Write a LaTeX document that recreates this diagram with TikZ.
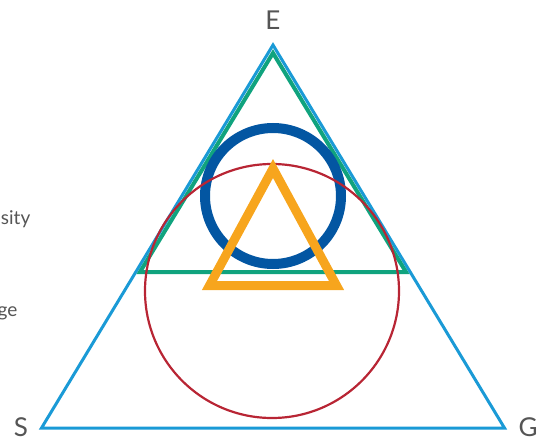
\documentclass[tikz,border=0pt]{standalone}
\usepackage{fontspec}
\setmainfont{Lato}
\definecolor{outerblue}{HTML}{1A9AD6}
\definecolor{tealgreen}{HTML}{10A37E}
\definecolor{ringblue}{HTML}{0356A2}
\definecolor{ambertri}{HTML}{F7A51D}
\definecolor{rimred}{HTML}{B82534}
\definecolor{labelgray}{HTML}{555555}
\begin{document}
\begin{tikzpicture}[x=1pt,y=-1pt,line join=miter,
	corner/.style={text=labelgray,inner sep=0pt,font=\fontsize{26}{28}\selectfont},
	cut/.style={text=labelgray,inner sep=0pt,font=\fontsize{19}{21}\selectfont,anchor=base east}]
	\useasboundingbox (0,0) rectangle (546,441);
	% outer triangle
	\coordinate (Etop) at (273,45);
	\coordinate (Sbot) at (41.5,428);
	\coordinate (Gbot) at (504.5,428);
	\draw[outerblue,line width=3pt] (Etop)--(Sbot)--(Gbot)--cycle;
	% inner triangles and circles
	\coordinate (gtop) at (273,53);
	\coordinate (gleft) at (140,272);
	\coordinate (gright) at (406,272);
	\draw[tealgreen,line width=4pt] (gtop)--(gleft)--(gright)--cycle;
	\draw[ringblue,line width=10pt] (273,196) circle (68pt);
	\draw[rimred,line width=2.2pt] (272,291) circle (127pt);
	\coordinate (otop) at (273,168.5);
	\coordinate (oleft) at (209.5,285.5);
	\coordinate (oright) at (336.5,285.5);
	\draw[ambertri,line width=9pt] (otop)--(oleft)--(oright)--cycle;
	\node[corner] (E) at (273,20) {E};
	\node[corner] (S) at (21,427) {S};
	\node[corner] (G) at (528,427) {G};
	\node[cut] (sity) at (30.5,224) {sity};
	\node[cut] (ge) at (17.5,316) {ge};
\end{tikzpicture}
\end{document}
